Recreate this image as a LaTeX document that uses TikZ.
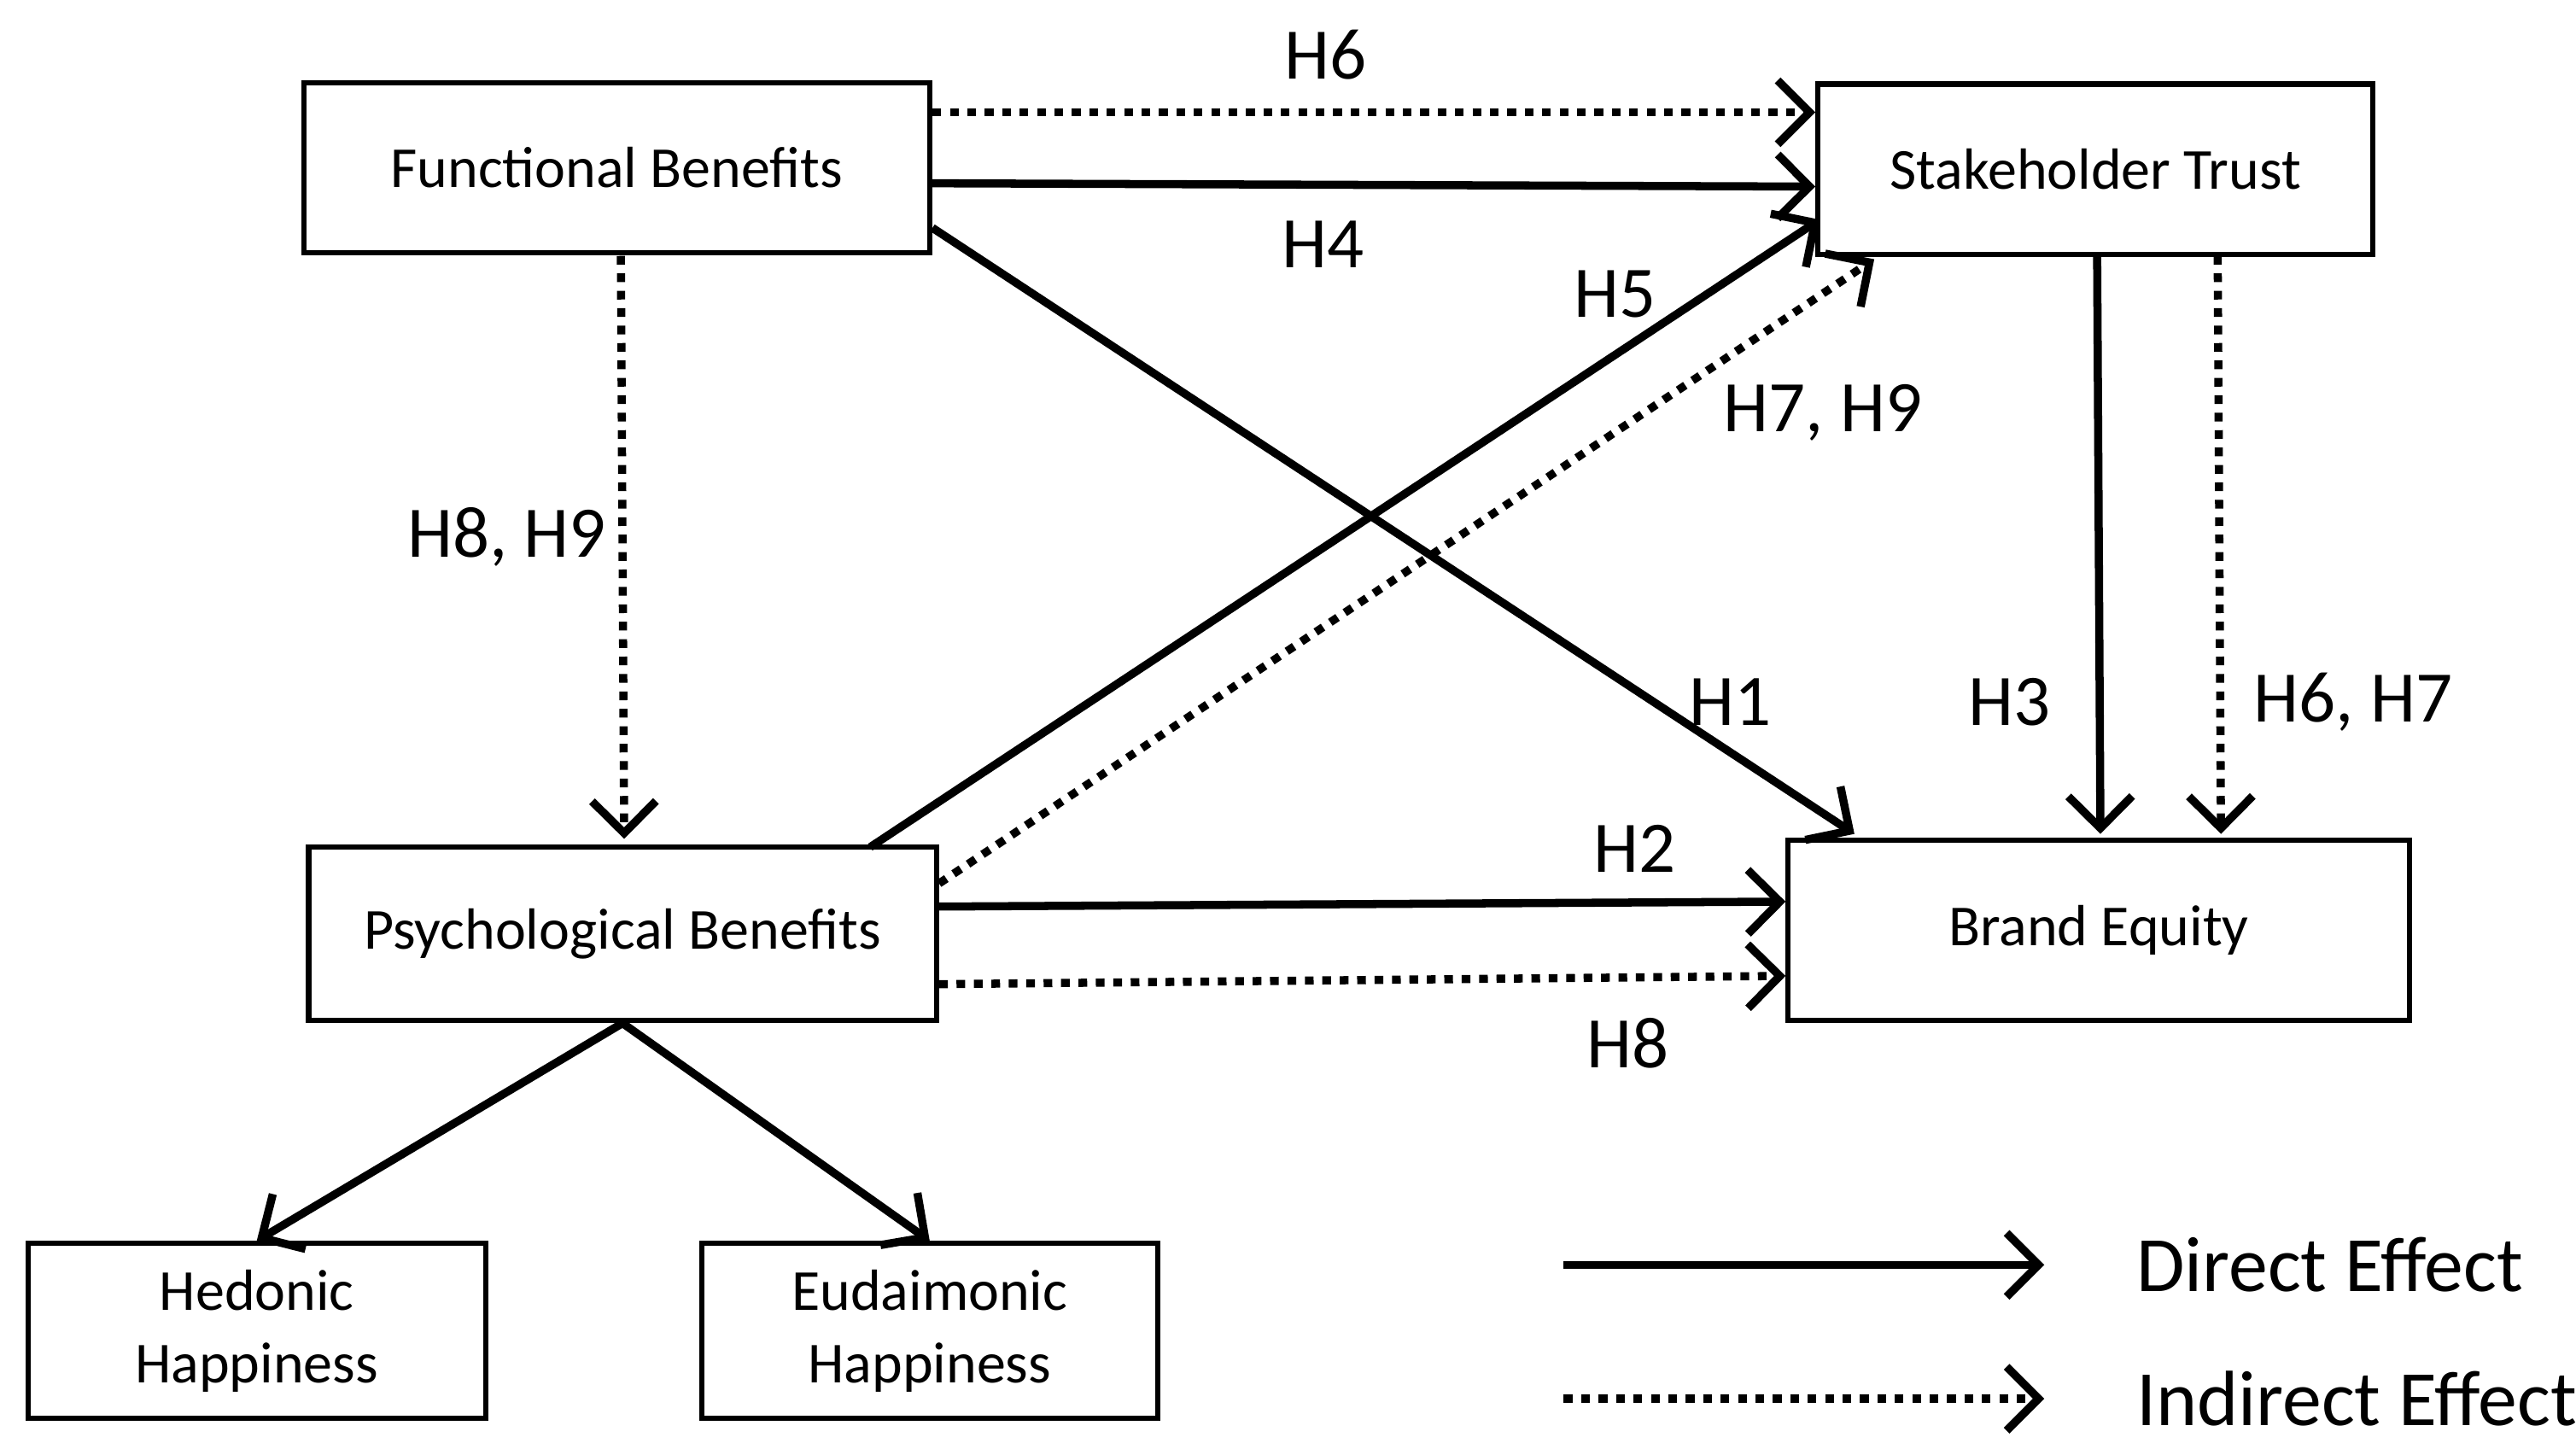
\documentclass[tikz,border=0pt]{standalone}
\usepackage{fontspec}
\setmainfont{Carlito}
\usetikzlibrary{arrows.meta}
\begin{document}
\begin{tikzpicture}[x=0.01cm,y=-0.01cm,
  box/.style={draw,line width=0.9pt,inner sep=0pt,align=center,font=\fontsize{10}{12.5}\selectfont},
  arr/.style={line width=1.4pt,-{Straight Barb[length=5.5pt,width=11pt,line width=1.4pt]}},
  dot/.style={arr,dash pattern=on 1.5pt off 1.5pt},
  lab/.style={font=\fontsize{12.5}{15}\selectfont},
  leg/.style={font=\fontsize{13.5}{16}\selectfont,anchor=west}]
\useasboundingbox (0,0) rectangle (1560,877);
\node[box,minimum width=3.79cm,minimum height=1.03cm] (fb) at (373.5,101.5) {Functional Benefits};
\node[box,minimum width=3.36cm,minimum height=1.03cm] (st) at (1269,102.5) {Stakeholder Trust};
\node[box,minimum width=3.80cm,minimum height=1.05cm] (pb) at (377,565.5) {Psychological Benefits};
\node[box,minimum width=3.76cm,minimum height=1.09cm] (be) at (1271,563.5) {Brand Equity};
\node[box,minimum width=2.77cm,minimum height=1.06cm] (hh) at (155.5,806) {Hedonic\\Happiness};
\node[box,minimum width=2.76cm,minimum height=1.06cm] (eh) at (563,806) {Eudaimonic\\Happiness};
% arrows
\draw[dot] (fb.east |- 0,68) -- (st.west |- 0,68);
\draw[arr] (fb.east |- 0,111) -- (st.west |- 0,113);
\draw[arr] (fb.east |- 0,138) -- (1123,505);
\draw[arr] (527,513) -- (1102,133);
\draw[dot] (pb.east |- 0,535) -- (1135,157);
\draw[dot] (376,155) -- (378,508);
\draw[arr] (1270,155) -- (1272,505);
\draw[dot] (1343,155) -- (1345,505);
\draw[arr] (pb.east |- 0,549) -- (be.west |- 0,546);
\draw[dot] (pb.east |- 0,596) -- (be.west |- 0,591);
\draw[arr] (pb.south) -- (hh.north);
\draw[arr] (pb.south) -- (eh.north);
% labels
\node[lab] (l6) at (803,33) {H6};
\node[lab] (l4) at (801,148) {H4};
\node[lab] (l1) at (1048,425) {H1};
\node[lab] (l5) at (978,178) {H5};
\node[lab] (l79) at (1104,250) {H7, H9};
\node[lab] (l89) at (307,325) {H8, H9};
\node[lab] (l3) at (1217,425) {H3};
\node[lab] (l67) at (1425,425) {H6, H7};
\node[lab] (l2) at (990,514) {H2};
\node[lab] (l8) at (986,632) {H8};
% legend
\coordinate (d1) at (947,766); \coordinate (d2) at (1238,766);
\coordinate (i1) at (947,847); \coordinate (i2) at (1238,847);
\draw[arr] (d1) -- (d2);
\draw[dot] (i1) -- (i2);
\node[leg,inner sep=0pt] (ld) at (1293,766) {Direct Effect};
\node[leg,inner sep=0pt] (li) at (1293,847) {Indirect Effect};
\end{tikzpicture}
\end{document}
